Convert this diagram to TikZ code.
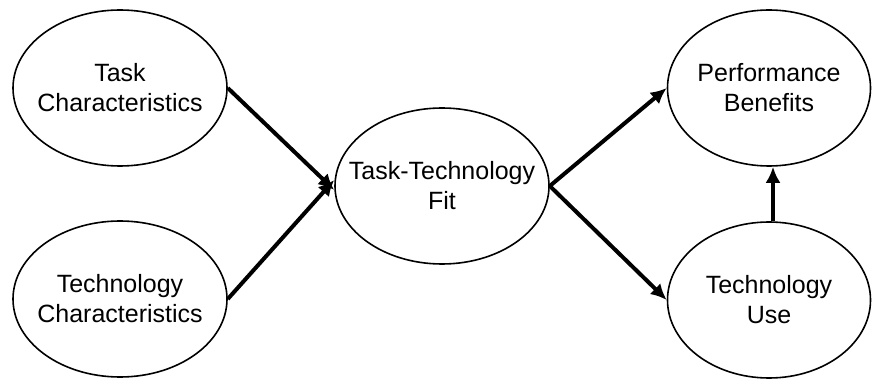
\documentclass[tikz,border=0pt]{standalone}
\usepackage{fontspec}
\setmainfont{Liberation Sans}
\usetikzlibrary{shapes.geometric,arrows.meta}
\begin{document}
\begin{tikzpicture}[x=1pt,y=-1pt,
  oval/.style={draw=black,line width=1.6pt,ellipse,inner xsep=-25pt,inner ysep=0pt,
    minimum width=214pt,minimum height=156pt,align=center,
    font=\fontsize{25}{30}\selectfont},
  arr/.style={line width=4pt,-{Latex[length=16pt,width=15pt]}}]
\useasboundingbox (0,0) rectangle (872,379);
\node[oval] (tc) at (120,88) {Task\\Characteristics};
\node[oval] (tech) at (120,299) {Technology\\Characteristics};
\node[oval] (ttf) at (442,186) {Task-Technology\\Fit};
\node[oval,minimum width=203pt] (pb) at (769,88) {Performance\\Benefits};
\node[oval,minimum width=203pt] (tu) at (769,300) {Technology\\Use};
\draw[arr] (tc.east) -- ([yshift=-4pt]ttf.west);
\draw[arr] (tech.east) -- ([yshift=6pt]ttf.west);
\draw[arr] (ttf.east) -- (pb.west);
\draw[arr] (ttf.east) -- (tu.west);
\draw[arr] ([xshift=4pt]tu.north) -- ([xshift=4pt]pb.south);
\end{tikzpicture}
\end{document}
